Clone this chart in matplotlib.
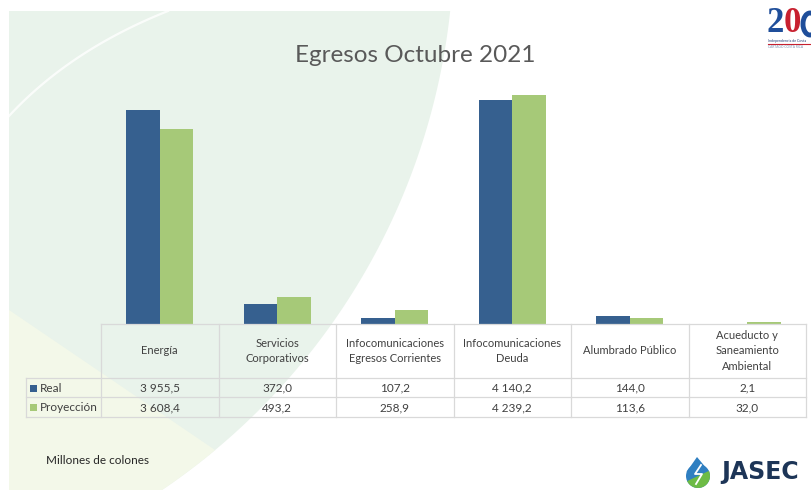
import numpy as np
import matplotlib
matplotlib.use("Agg")
import matplotlib.pyplot as plt
from matplotlib import transforms
from matplotlib.patches import Polygon, Rectangle, Circle, Wedge, Arc

plt.rcParams['font.family'] = ['Lato', 'DejaVu Sans']

# data
categories = ["Energía", "Servicios\nCorporativos", "Infocomunicaciones\nEgresos Corrientes",
              "Infocomunicaciones\nDeuda", "Alumbrado Público", "Acueducto y\nSaneamiento\nAmbiental"]
real = [3955.5, 372.0, 107.2, 4140.2, 144.0, 2.1]
proyeccion = [3608.4, 493.2, 258.9, 4239.2, 113.6, 32.0]
series_names = ["Real", "Proyección"]

BLUE = '#36608f'
GREEN = '#a6c978'
GRID = '#d9d9d9'
TXT = '#404040'


def fmt(v):
    # 3955.5 -> "3 955,5"
    return f"{v:,.1f}".replace(",", " ").replace(".", ",")


fig = plt.figure(figsize=(8.11, 4.90), dpi=100)

# background layer in pixel coords (y down)
bg = fig.add_axes([0, 0, 1, 1])
bg.set_xlim(0, 811)
bg.set_ylim(490, 0)
bg.axis('off')

# big pale green disc on the left of the slide
cx, cy, r = -210, -60, 664
ys = np.linspace(11, 490, 120)
xs = cx + np.sqrt(r**2 - (ys - cy)**2)
pts = [(9, 11)] + list(zip(xs, ys)) + [(9, 490)]
bg.add_patch(Polygon(pts, closed=True, facecolor='#e9f3eb', edgecolor='none', zorder=0))

# yellowish wedge at the bottom left
yy = np.linspace(450, 490, 10)
xx = cx + np.sqrt(r**2 - (yy - cy)**2)
pts2 = [(9, 310), (215, 450)] + list(zip(xx, yy)) + [(9, 490)]
bg.add_patch(Polygon(pts2, closed=True, facecolor='#f3f8e9', edgecolor='none', zorder=1))

# thin white arc top left
t = np.linspace(0, 1, 30)
ax_ = (1 - t)**2 * 9 + 2 * (1 - t) * t * 70 + t**2 * 168
ay_ = (1 - t)**2 * 116 + 2 * (1 - t) * t * 50 + t**2 * 11
bg.plot(ax_, ay_, color='white', lw=1.6, alpha=0.8, zorder=2)

bg.text(415, 55, "Egresos Octubre 2021", fontsize=17.5, color='#595959',
        ha='center', va='center')
bg.text(46, 460, "Millones de colones", fontsize=8.5, color='#262626', va='center')

# JASEC logo (approximation)
bg.add_patch(Circle((698, 476), 12, facecolor='#2f7fc1', edgecolor='none', zorder=3))
bg.add_patch(Polygon([(686.5, 472), (697, 457), (709.5, 472)], facecolor='#2f7fc1',
                     edgecolor='none', zorder=3))
bg.add_patch(Wedge((698, 476), 12, -25, 155, facecolor='#6dbb45', edgecolor='none', zorder=4))
bg.plot([701, 695, 702, 696], [465, 474, 474, 484], color='white', lw=1.3, zorder=5)
bg.text(721, 472, "JASEC", fontsize=17, fontweight='bold', color='#1d3557',
        family='DejaVu Sans', va='center')

# bicentennial logo top right (approximation)
for i, (d, c) in enumerate([("2", '#1f4e9a'), ("0", '#c8202f')]):
    bg.text(767 + i * 16.5, 24, d, fontsize=25, fontweight='bold', color=c,
            family='Liberation Serif', va='center')
bg.add_patch(Arc((810, 24), 14, 22, theta1=0, theta2=360, color='#1f4e9a', lw=3.5))
bg.text(768, 41, "Independencia de Costa", fontsize=2.6, color='#1f3c78', va='center')
bg.plot([768, 811], [44, 44], color='#c8202f', lw=0.8)
bg.text(768, 47.5, "CARTAGO COSTA RICA", fontsize=2.3, color='#7f8fb0', va='center')

# bars
ax = fig.add_axes([101 / 811, (490 - 324) / 490, 705 / 811, 243 / 490])
ax.patch.set_alpha(0)
x = np.arange(len(categories))
w = 0.285
ax.bar(x - w / 2, real, w, color=BLUE)
ax.bar(x + w / 2, proyeccion, w, color=GREEN)
ax.set_xlim(-0.5, len(categories) - 0.5)
ax.set_ylim(0, 4500)
ax.axis('off')

# data table under the bars
trans = transforms.blended_transform_factory(ax.transData, ax.transAxes)


def ypx(y):
    return (324 - y) / 243


xl = -0.5 - 75 / 117.5
xr = len(categories) - 0.5
kw = dict(transform=trans, clip_on=False, color=GRID, lw=0.9)
ax.plot([-0.5, xr], [ypx(324)] * 2, **kw)
for yrow in (378, 397, 417):
    ax.plot([xl, xr], [ypx(yrow)] * 2, **kw)
for k in range(len(categories) + 1):
    ax.plot([k - 0.5] * 2, [ypx(324), ypx(417)], **kw)
ax.plot([xl] * 2, [ypx(378), ypx(417)], **kw)

for i, cat in enumerate(categories):
    ax.text(i, ypx(351), cat, transform=trans, ha='center', va='center',
            multialignment='center', linespacing=1.45, fontsize=8, color=TXT)
    ax.text(i, ypx(388), fmt(real[i]), transform=trans, ha='center', va='center',
            fontsize=8.5, color=TXT)
    ax.text(i, ypx(407.5), fmt(proyeccion[i]), transform=trans, ha='center', va='center',
            fontsize=8.5, color=TXT)

# row labels with legend keys
for yc, name, col in zip((388, 407.5), series_names, (BLUE, GREEN)):
    bg.add_patch(Rectangle((30, yc - 3.5), 7, 7, facecolor=col, edgecolor='none', zorder=3))
    bg.text(40, yc, name, fontsize=8.5, color=TXT, va='center')

fig.savefig('out.png', dpi=100)
